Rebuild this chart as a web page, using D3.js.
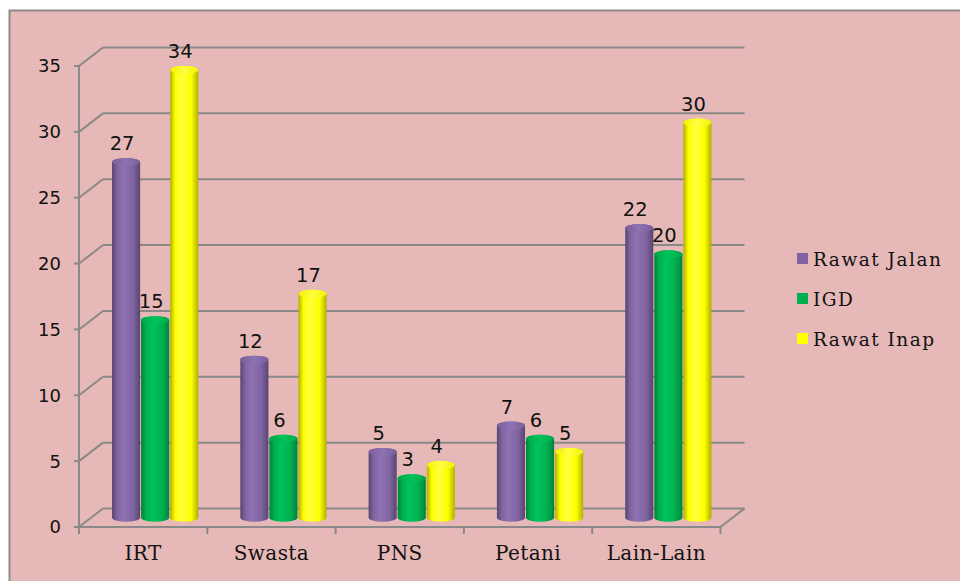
<!DOCTYPE html>
<html>
<head>
<meta charset="utf-8">
<script src="https://cdn.jsdelivr.net/npm/d3@7/dist/d3.min.js"></script>
<style>
  html, body { margin: 0; padding: 0; background: #ffffff; }
  svg { display: block; }
</style>
</head>
<body>
<svg id="chart" width="960" height="581"></svg>
<script>
// Patients per occupation group, by service unit
const categories = ["IRT", "Swasta", "PNS", "Petani", "Lain-Lain"];
const seriesNames = ["Rawat Jalan", "IGD", "Rawat Inap"];
const rawatJalan = [27, 12, 5, 7, 22];
const igd = [15, 6, 3, 6, 20];
const rawatInap = [34, 17, 4, 5, 30];
const yTicks = [0, 5, 10, 15, 20, 25, 30, 35];

const seriesValues = [rawatJalan, igd, rawatInap];
const seriesColors = [
  { base: "#8064A2", dark: "#58456F", light: "#8E72B2", top: "#7A5F9C" },
  { base: "#00B050", dark: "#00823A", light: "#00C35A", top: "#00A84A" },
  { base: "#FFFF00", dark: "#B0B000", light: "#FFFF40", top: "#F2F200" }
];

const svg = d3.select("#chart");
const W = 960, H = 581;

// chart area frame
svg.append("rect")
  .attr("x", 9.5).attr("y", 10.5)
  .attr("width", W + 10).attr("height", H + 10)
  .attr("fill", "#E6B8B7")
  .attr("stroke", "#8B8B8B").attr("stroke-width", 2);

// 3D projection: depth offset of the back wall
const depthX = 24, depthY = -18.5;

const y = d3.scaleLinear().domain([0, 35]).range([527, 66]);
const x0 = d3.scaleBand().domain(categories).range([79, 720.5]).padding(0);
const groupW = x0.bandwidth() * 0.68;
const x1 = d3.scaleBand().domain(seriesNames).range([0, groupW]).padding(0);

const gridColor = "#898989";
const grid = svg.append("g");

// back wall gridlines + side wall diagonals
yTicks.forEach(t => {
  const yf = y(t);
  grid.append("line")
    .attr("x1", x0.range()[0] + depthX).attr("x2", x0.range()[1] + depthX)
    .attr("y1", yf + depthY).attr("y2", yf + depthY)
    .attr("stroke", gridColor).attr("stroke-width", 2);
  grid.append("line")
    .attr("x1", x0.range()[0]).attr("y1", yf)
    .attr("x2", x0.range()[0] + depthX).attr("y2", yf + depthY)
    .attr("stroke", gridColor).attr("stroke-width", 2);
});

// floor front edge and right edge
grid.append("line")
  .attr("x1", x0.range()[0]).attr("x2", x0.range()[1])
  .attr("y1", y(0)).attr("y2", y(0))
  .attr("stroke", gridColor).attr("stroke-width", 2);
grid.append("line")
  .attr("x1", x0.range()[1]).attr("y1", y(0))
  .attr("x2", x0.range()[1] + depthX).attr("y2", y(0) + depthY)
  .attr("stroke", gridColor).attr("stroke-width", 2);

// category separator ticks
const sepX = categories.map(c => x0(c)).concat([x0.range()[1]]);
sepX.forEach(sx => {
  grid.append("line")
    .attr("x1", sx).attr("x2", sx)
    .attr("y1", y(0)).attr("y2", y(0) + 7)
    .attr("stroke", gridColor).attr("stroke-width", 2);
});

// value axis line and ticks
grid.append("line")
  .attr("x1", x0.range()[0]).attr("x2", x0.range()[0])
  .attr("y1", y(35)).attr("y2", y(0))
  .attr("stroke", gridColor).attr("stroke-width", 2);
yTicks.forEach(t => {
  grid.append("line")
    .attr("x1", x0.range()[0] - 5).attr("x2", x0.range()[0])
    .attr("y1", y(t)).attr("y2", y(t))
    .attr("stroke", gridColor).attr("stroke-width", 2);
});

svg.append("g").selectAll("text")
  .data(yTicks).join("text")
  .attr("x", 61).attr("y", d => y(d))
  .attr("dy", "0.36em")
  .attr("text-anchor", "end")
  .attr("font-family", "DejaVu Sans")
  .attr("font-size", 18)
  .attr("fill", "#111")
  .text(d => d);

// gradients for cylinders
const defs = svg.append("defs");
seriesColors.forEach((c, i) => {
  const g = defs.append("linearGradient").attr("id", "body" + i)
    .attr("x1", "0%").attr("x2", "100%").attr("y1", "0%").attr("y2", "0%");
  g.append("stop").attr("offset", "0%").attr("stop-color", c.dark);
  g.append("stop").attr("offset", "18%").attr("stop-color", c.base);
  g.append("stop").attr("offset", "40%").attr("stop-color", c.light);
  g.append("stop").attr("offset", "75%").attr("stop-color", c.base);
  g.append("stop").attr("offset", "100%").attr("stop-color", c.dark);
  const t = defs.append("linearGradient").attr("id", "top" + i)
    .attr("x1", "0%").attr("x2", "100%").attr("y1", "0%").attr("y2", "0%");
  t.append("stop").attr("offset", "0%").attr("stop-color", c.top);
  t.append("stop").attr("offset", "50%").attr("stop-color", c.light);
  t.append("stop").attr("offset", "100%").attr("stop-color", c.top);
});

// cylinders, placed at mid depth
const midX = depthX / 2, midY = depthY / 2;
const rx = x1.bandwidth() / 2 - 0.5, ry = 4;
const bars = [];
categories.forEach((cat, ci) => {
  seriesNames.forEach((s, si) => {
    bars.push({ cat, s, si, v: seriesValues[si][ci] });
  });
});

const barG = svg.append("g");
bars.forEach(b => {
  const cx = x0(b.cat) + (x0.bandwidth() - groupW) / 2 + x1(b.s) + x1.bandwidth() / 2 + midX;
  const yTop = y(b.v) + midY;
  const yBot = y(0) + midY;
  const l = cx - rx, r = cx + rx;
  const body = `M${l},${yTop} L${l},${yBot} A${rx},${ry} 0 0 0 ${r},${yBot} L${r},${yTop} A${rx},${ry} 0 0 0 ${l},${yTop} Z`;
  barG.append("path").attr("d", body).attr("fill", `url(#body${b.si})`);
  barG.append("ellipse")
    .attr("cx", cx).attr("cy", yTop).attr("rx", rx).attr("ry", ry)
    .attr("fill", `url(#top${b.si})`);
  b.cx = cx; b.yTop = yTop;
});

// value labels
svg.append("g").selectAll("text")
  .data(bars).join("text")
  .attr("x", d => d.cx - 4).attr("y", d => d.yTop - 12)
  .attr("text-anchor", "middle")
  .attr("font-family", "DejaVu Sans")
  .attr("font-size", 19.5)
  .attr("fill", "#111")
  .text(d => d.v);

// category labels
svg.append("g").selectAll("text")
  .data(categories).join("text")
  .attr("x", d => x0(d) + x0.bandwidth() / 2)
  .attr("y", 560)
  .attr("text-anchor", "middle")
  .attr("font-family", "DejaVu Serif")
  .attr("font-size", 20)
  .attr("letter-spacing", 0.4)
  .attr("fill", "#111")
  .text(d => d);

// legend
const legend = svg.append("g").attr("transform", "translate(797,253)");
seriesNames.forEach((s, i) => {
  const g = legend.append("g").attr("transform", `translate(0,${i * 40})`);
  g.append("rect").attr("width", 11).attr("height", 11)
    .attr("fill", seriesColors[i].base);
  g.append("text").attr("x", 16).attr("y", 13)
    .attr("font-family", "DejaVu Serif")
    .attr("font-size", 18.5)
    .attr("letter-spacing", 1.5)
    .attr("fill", "#111")
    .text(s);
});
</script>
</body>
</html>
